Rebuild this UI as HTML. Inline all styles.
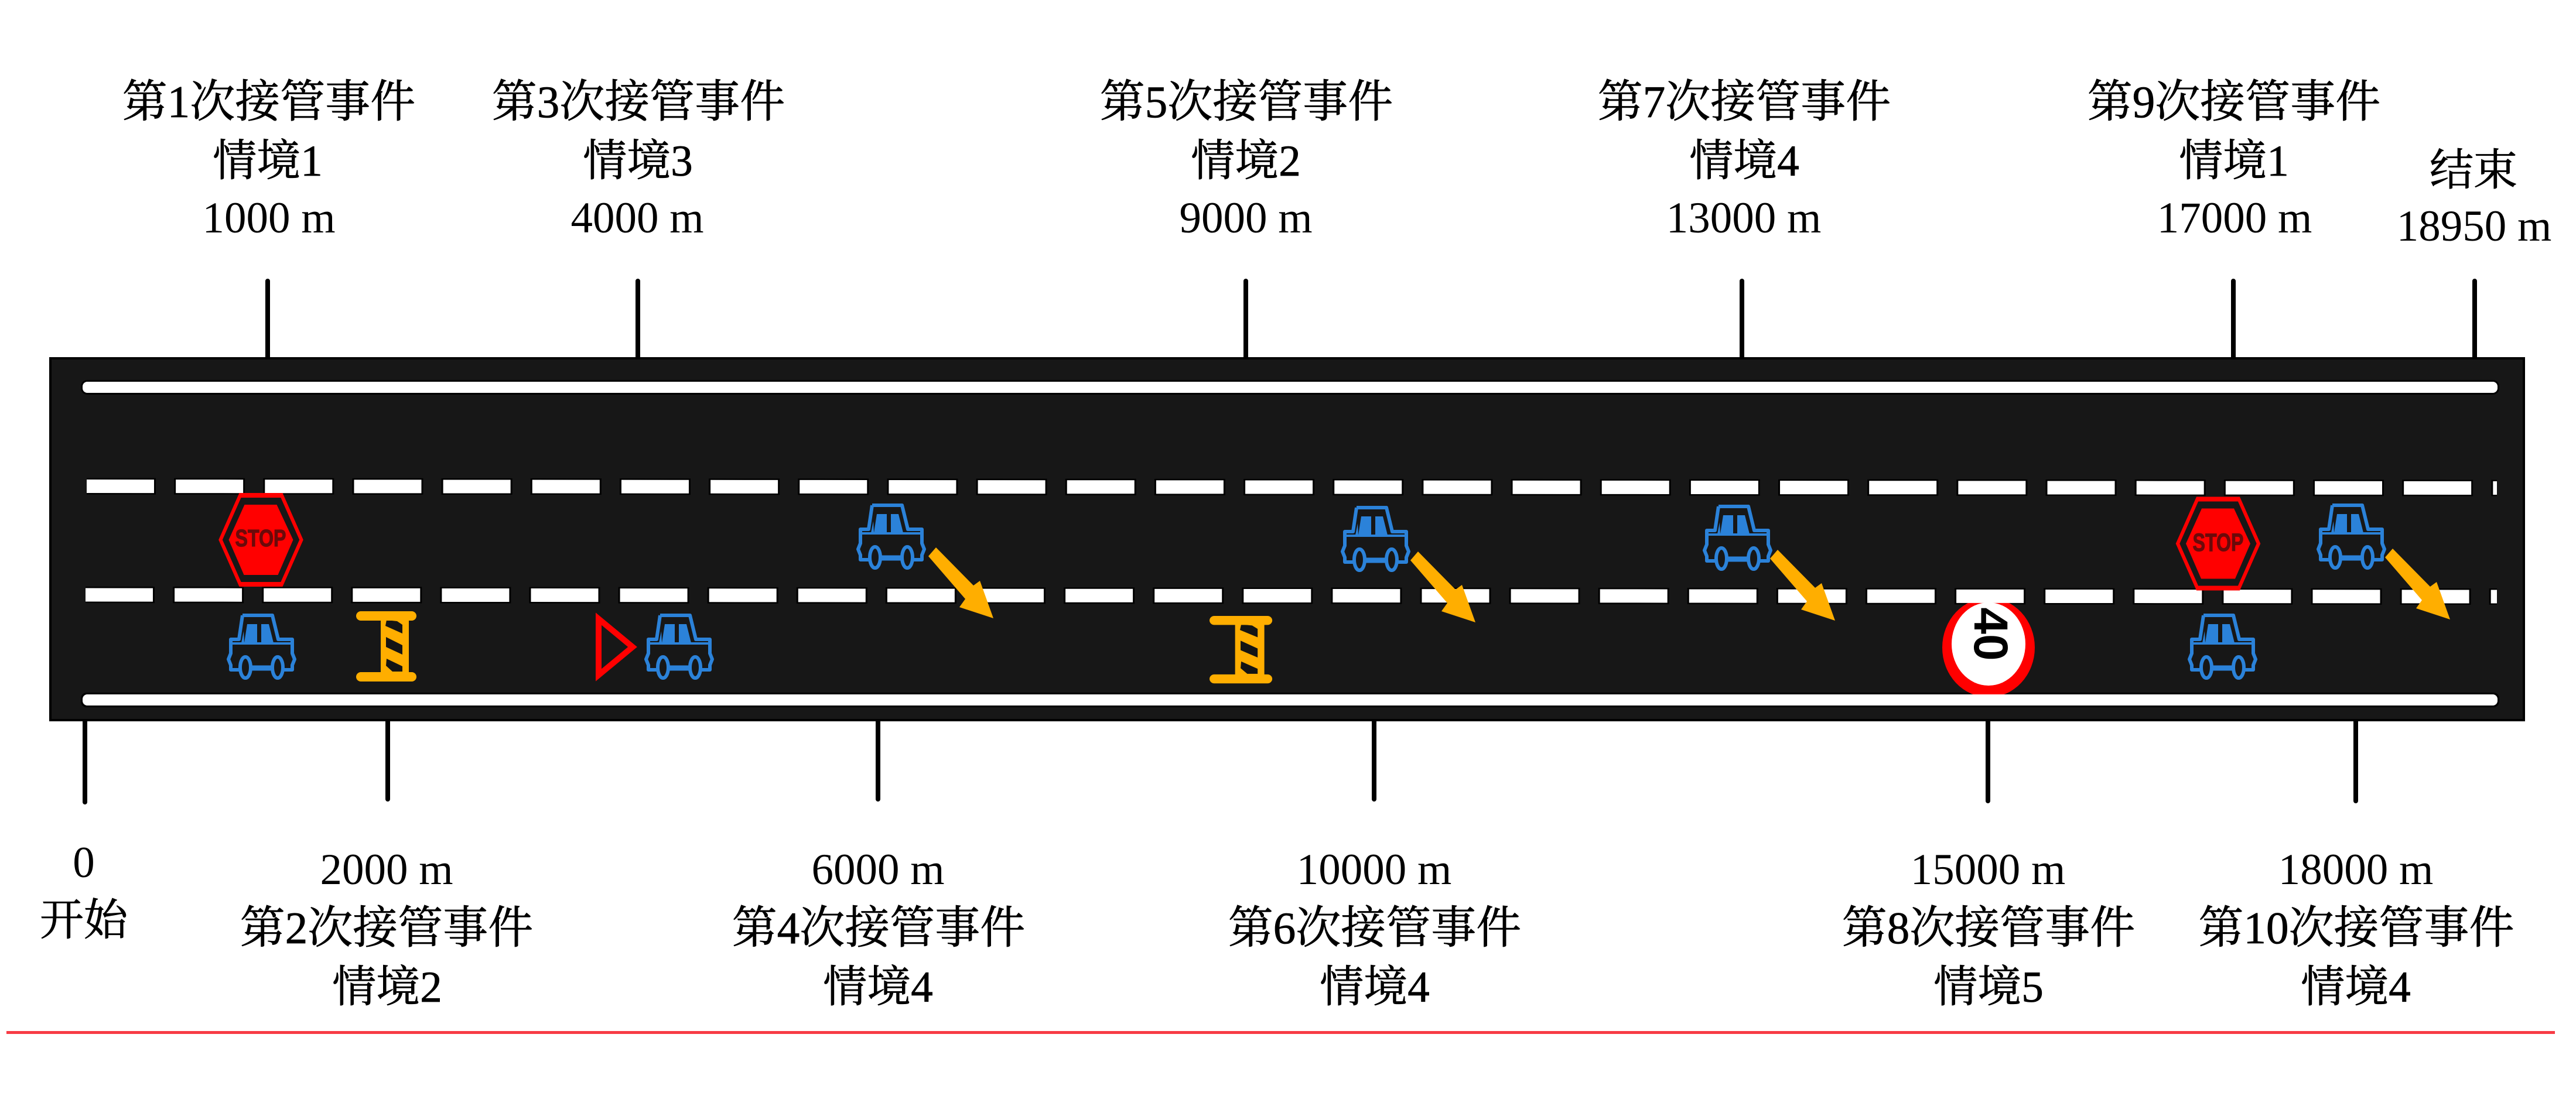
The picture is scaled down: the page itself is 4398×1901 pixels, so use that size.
<!DOCTYPE html>
<html lang="zh">
<head>
<meta charset="utf-8">
<title>Diagram</title>
<style>
html,body{margin:0;padding:0;background:#fff}
body{width:4398px;height:1901px;overflow:hidden}
svg{display:block}
.t,.c,.s{font-family:"Liberation Serif","Noto Serif CJK SC",serif;fill:#000;text-anchor:middle}
.t{font-size:75px}
.c{font-size:77px;stroke:#000;stroke-width:.8px}
.s{font-size:75px;stroke:#000;stroke-width:.8px}
</style>
</head>
<body>
<svg xmlns="http://www.w3.org/2000/svg" width="4398" height="1901" viewBox="0 0 4398 1901">
<defs>
<g id="car" fill="none" stroke="#2b82d9" stroke-width="6" stroke-linejoin="round">
  <path d="M27,3 H78 L88,44 H112 V68 L116,78 L112,88 V96 H98 M76,93 H43 M21,96 H7 V88 L3,78 L7,68 V44 H21 L27,3"/>
  <path d="M76,93 H43" stroke-width="9"/>
  <path d="M8,51 H112" stroke-width="4"/>
  <ellipse cx="32" cy="92" rx="9" ry="18"/>
  <ellipse cx="87" cy="92" rx="9" ry="18"/>
  <path d="M35,18 H52 V50 H30 Z M59,18 H72 L80,50 H59 Z M25,50 L29,30 L30,50 Z" fill="#2b82d9" stroke="none"/>
</g>
<polygon id="arrow" fill="#ffae00" points="-111,-106 -98,-121 -34,-56 -23,-64 0,0 -58,-19 -48,-33"/>
<g id="stop">
  <polygon points="-69,0 -35,-77 35,-77 69,0 35,77 -35,77" fill="none" stroke="#f00" stroke-width="6"/>
  <rect x="-36" y="-80" width="72" height="8" fill="#f00"/>
  <rect x="-36" y="72" width="72" height="8" fill="#f00"/>
  <polygon points="-55,0 -28,-60 27,-60 55,0 29,60 -29,60" fill="#f00"/>
</g>
<g id="barrier">
  <path d="M42,10 H90 V112 H42 Z" fill="#ffae00"/>
  <path d="M52,15 L70,17 L79,23 L79,38 L50,25 Z M51,44 L79,58 L79,74 L51,61 Z M52,81 L79,94 L79,103 L62,103 L51,93 Z" fill="#141414"/>
  <rect x="0" y="0" width="103" height="16" rx="8" fill="#ffae00"/>
  <rect x="0" y="104" width="103" height="16" rx="8" fill="#ffae00"/>
</g>
</defs>

<!-- tick marks -->
<g stroke="#000" stroke-width="8" stroke-linecap="round">
  <path d="M457,480 V620 M1089,480 V620 M2127,480 V620 M2974,480 V620 M3813,480 V620 M4225,480 V620"/>
  <path d="M145,1225 V1370 M662,1225 V1365 M1499,1225 V1365 M2346,1225 V1365 M3394,1225 V1368 M4022,1225 V1368"/>
</g>

<!-- road -->
<rect x="86" y="612" width="4223" height="618" fill="#171717" stroke="#000" stroke-width="4"/>

<!-- line halos -->
<rect x="138" y="1183" width="4129" height="25" rx="10" fill="#000"/>
<g fill="none" stroke="#000" stroke-width="28">
  <line x1="148" y1="830.5" x2="4263" y2="833.5" stroke-dasharray="121 31.16" stroke-dashoffset="3"/>
  <line x1="146" y1="1016" x2="4263" y2="1019" stroke-dasharray="121 31.1" stroke-dashoffset="3"/>
</g>

<!-- speed sign -->
<ellipse cx="3395" cy="1106" rx="79" ry="85" fill="#f00"/>
<ellipse cx="3395" cy="1100" rx="63" ry="71" fill="#fff"/>
<text transform="translate(3371,1083) rotate(90)" font-family="'Liberation Sans',sans-serif" font-weight="bold" font-size="82" fill="#000" text-anchor="middle">40</text>

<!-- solid edge lines -->
<rect x="141" y="652" width="4123" height="19" rx="8" fill="#fff" stroke="#000" stroke-width="6" paint-order="stroke"/>
<rect x="141" y="1186" width="4123" height="19" rx="8" fill="#fff"/>

<!-- dashed lane lines -->
<g fill="none" stroke="#fff" stroke-width="23">
  <line x1="148" y1="830.5" x2="4263" y2="833.5" stroke-dasharray="115 37.16"/>
  <line x1="146" y1="1016" x2="4263" y2="1019" stroke-dasharray="115 37.1"/>
</g>

<!-- stop signs -->
<use href="#stop" transform="translate(445.5,922)"/>
<text x="445" y="933" font-family="'Liberation Sans',sans-serif" font-weight="bold" font-size="41" fill="#6b0a0a" stroke="#6b0a0a" stroke-width="1.2" text-anchor="middle" textLength="87" lengthAdjust="spacingAndGlyphs">STOP</text>
<use href="#stop" transform="translate(3787,928.5)"/>
<text x="3787" y="941" font-family="'Liberation Sans',sans-serif" font-weight="bold" font-size="43" fill="#6b0a0a" stroke="#6b0a0a" stroke-width="1.2" text-anchor="middle" textLength="87" lengthAdjust="spacingAndGlyphs">STOP</text>

<!-- cars -->
<use href="#car" x="387" y="1048"/>
<use href="#car" x="1100" y="1048"/>
<use href="#car" x="1462" y="860"/>
<use href="#car" x="2289" y="864"/>
<use href="#car" x="2907" y="862"/>
<use href="#car" x="3735" y="1048"/>
<use href="#car" x="3955" y="860"/>

<!-- arrows -->
<use href="#arrow" transform="translate(1696,1056)"/>
<use href="#arrow" transform="translate(2519,1063)"/>
<use href="#arrow" transform="translate(3133,1060)"/>
<use href="#arrow" transform="translate(4183,1058)"/>

<!-- barriers -->
<use href="#barrier" transform="translate(608,1044)"/>
<use href="#barrier" transform="translate(2065,1052) scale(1.04,.96)"/>

<!-- triangle -->
<polygon points="1022,1057 1022,1153 1080,1105" fill="none" stroke="#f00" stroke-width="10" stroke-linejoin="miter"/>

<!-- upper labels -->
<text class="c" x="459" y="200">第1次接管事件</text>
<text class="s" x="457" y="300">情境1</text>
<text class="t" x="459" y="397">1000 m</text>

<text class="c" x="1090" y="200">第3次接管事件</text>
<text class="s" x="1089" y="300">情境3</text>
<text class="t" x="1088" y="397">4000 m</text>

<text class="c" x="2128" y="200">第5次接管事件</text>
<text class="s" x="2127" y="300">情境2</text>
<text class="t" x="2127" y="397">9000 m</text>

<text class="c" x="2978" y="200">第7次接管事件</text>
<text class="s" x="2978" y="300">情境4</text>
<text class="t" x="2977" y="397">13000 m</text>

<text class="c" x="3814" y="200">第9次接管事件</text>
<text class="s" x="3814" y="300">情境1</text>
<text class="t" x="3815" y="397">17000 m</text>

<text class="s" x="4223" y="316">结束</text>
<text class="t" x="4224" y="411">18950 m</text>

<!-- lower labels -->
<text class="t" x="143" y="1498">0</text>
<text class="s" x="143" y="1597">开始</text>

<text class="t" x="660" y="1510">2000 m</text>
<text class="c" x="660" y="1611">第2次接管事件</text>
<text class="s" x="661" y="1711">情境2</text>

<text class="t" x="1499" y="1510">6000 m</text>
<text class="c" x="1500" y="1611">第4次接管事件</text>
<text class="s" x="1499" y="1711">情境4</text>

<text class="t" x="2346" y="1510">10000 m</text>
<text class="c" x="2347" y="1611">第6次接管事件</text>
<text class="s" x="2347" y="1711">情境4</text>

<text class="t" x="3394" y="1510">15000 m</text>
<text class="c" x="3395" y="1611">第8次接管事件</text>
<text class="s" x="3395" y="1711">情境5</text>

<text class="t" x="4022" y="1510">18000 m</text>
<text class="c" x="4023" y="1611">第10次接管事件</text>
<text class="s" x="4022" y="1711">情境4</text>

<!-- red rule -->
<rect x="11" y="1761" width="4351" height="5" fill="#f73b45"/>
</svg>
</body>
</html>
